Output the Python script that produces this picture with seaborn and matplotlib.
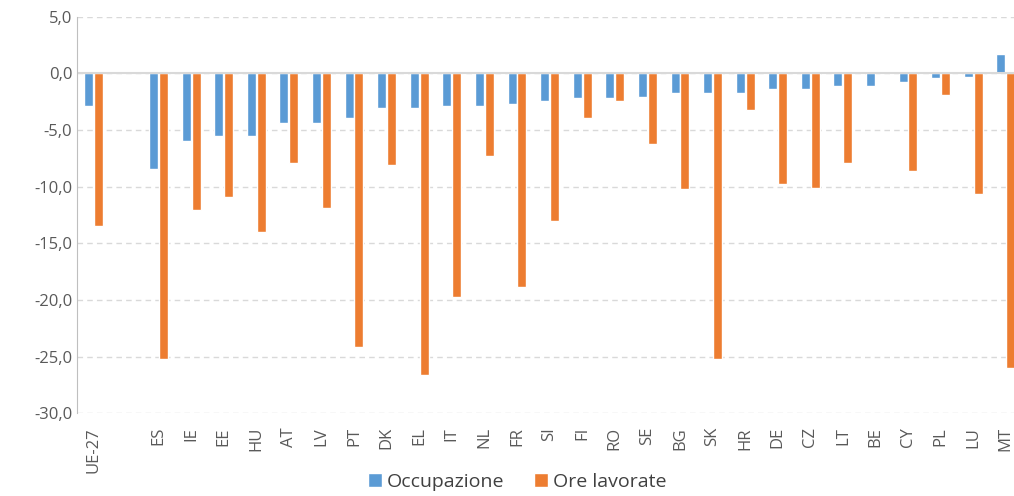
import pandas as pd
import numpy as np
import seaborn as sns
import matplotlib.pyplot as plt
from matplotlib.ticker import FuncFormatter

# Data (% change)
paesi = ['UE-27', ' ', 'ES', 'IE', 'EE', 'HU', 'AT', 'LV', 'PT', 'DK', 'EL', 'IT', 'NL', 'FR',
         'SI', 'FI', 'RO', 'SE', 'BG', 'SK', 'HR', 'DE', 'CZ', 'LT', 'BE', 'CY', 'PL', 'LU', 'MT']
occupazione = [-2.9, np.nan, -8.45, -6.0, -5.5, -5.5, -4.4, -4.4, -3.9, -3.05, -3.05, -2.9, -2.9, -2.7,
               -2.4, -2.2, -2.2, -2.05, -1.7, -1.75, -1.7, -1.4, -1.4, -1.1, -1.1, -0.75, -0.4, -0.3, 1.7]
ore_lavorate = [-13.5, np.nan, -25.2, -12.05, -10.9, -14.0, -7.95, -11.9, -24.2, -8.1, -26.6, -19.7, -7.3, -18.9,
                -13.0, -3.9, -2.4, -6.2, -10.2, -25.2, -3.2, -9.75, -10.1, -7.95, 0.0, -8.6, -1.9, -10.6, -26.0]

df = pd.DataFrame({'Paese': paesi, 'Occupazione': occupazione, 'Ore lavorate': ore_lavorate})
df = df.melt(id_vars='Paese', var_name='Serie', value_name='Valore')

sns.set_style('white')
plt.rcParams['font.family'] = ['Open Sans', 'DejaVu Sans']

fig = plt.figure(figsize=(10.14, 4.96), dpi=100)
ax = fig.add_axes([0.076, 0.167, 0.932, 0.799])

sns.barplot(data=df, x='Paese', y='Valore', hue='Serie', order=paesi,
            palette=['#5B9BD5', '#ED7D31'], saturation=1, width=0.6, gap=0.08,
            errorbar=None, ax=ax, legend=True)

ax.set_ylim(-30, 5)
ax.set_xlim(-0.5, len(paesi) - 0.5)
ax.set_yticks(np.arange(-30, 5.1, 5))
ax.yaxis.set_major_formatter(FuncFormatter(lambda v, p: f'{v:.1f}'.replace('.', ',')))
ax.grid(axis='y', linestyle=(0, (4, 3)), color='#d9d9d9', linewidth=1)
ax.axhline(0, color='#d9d9d9', linewidth=1.5, zorder=1)
ax.set_axisbelow(True)

for s in ['top', 'right', 'bottom']:
    ax.spines[s].set_visible(False)
ax.spines['left'].set_color('#bfbfbf')

ax.set_xlabel('')
ax.set_ylabel('')
ax.tick_params(axis='both', length=0, colors='#595959', labelsize=12)
ax.tick_params(axis='x', rotation=90, pad=10)

ax.legend(loc='lower center', bbox_to_anchor=(0.51, -0.025), bbox_transform=fig.transFigure,
          ncol=2, frameon=False, fontsize=14, handlelength=0.75, handleheight=0.75,
          handletextpad=0.25, columnspacing=1.5, labelcolor='#404040')

fig.savefig('out.png', dpi=100)
